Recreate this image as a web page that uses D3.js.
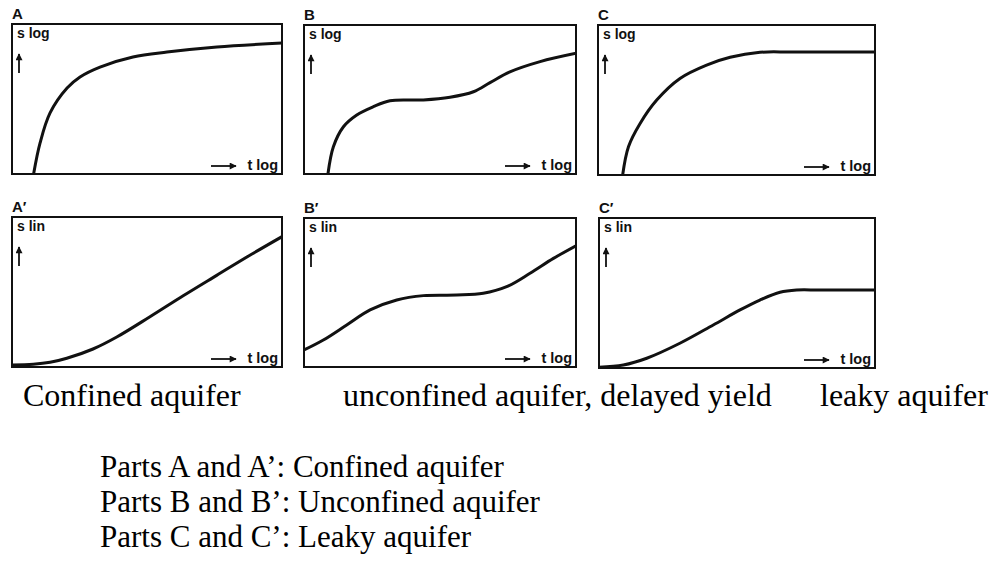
<!DOCTYPE html>
<html>
<head>
<meta charset="utf-8">
<script src="https://cdn.jsdelivr.net/npm/d3@7"></script>
<style>
  body { margin: 0; background: #fff; }
  .box { fill: none; stroke: #111; stroke-width: 2; }
  .curve { fill: none; stroke: #111; stroke-width: 3; stroke-linejoin: round; }
  .plabel, .axlabel { font-family: "Liberation Sans", Arial, sans-serif; font-weight: bold; fill: #111; }
  .caption { font-family: "Liberation Serif", "Times New Roman", serif; fill: #000; }
</style>
</head>
<body>
<div id="chart"></div>
<script>
// drawdown curves, normalised: t in [0,1] across the box, s in [0,1] up the box
var curveA = [[0.08, 0], [0.104, 0.207], [0.141, 0.407], [0.204, 0.573], [0.252, 0.647], [0.326, 0.713],
    [0.448, 0.78], [0.574, 0.813], [0.759, 0.847], [1.0, 0.873]];
var curveB = [[0.088, 0], [0.108, 0.183], [0.145, 0.317], [0.194, 0.396], [0.255, 0.452], [0.316, 0.492],
    [0.439, 0.497], [0.537, 0.515], [0.623, 0.552], [0.684, 0.613], [0.757, 0.685], [0.868, 0.754], [1.0, 0.81]];
var curveC = [[0.089, 0], [0.11, 0.189], [0.152, 0.344], [0.212, 0.5], [0.296, 0.644], [0.392, 0.733],
    [0.477, 0.785], [0.585, 0.818], [0.7, 0.82], [1.0, 0.82]];
var curveA2 = [[0, 0.013], [0.079, 0.018], [0.141, 0.031], [0.203, 0.058], [0.3, 0.12], [0.388, 0.2],
    [0.511, 0.335], [0.634, 0.475], [0.758, 0.611], [0.881, 0.745], [1.0, 0.869]];
var curveB2 = [[0, 0.114], [0.071, 0.181], [0.157, 0.282], [0.243, 0.383], [0.341, 0.45], [0.439, 0.479],
    [0.561, 0.483], [0.659, 0.495], [0.745, 0.539], [0.831, 0.629], [0.917, 0.729], [1.0, 0.814]];
var curveC2 = [[0, 0.005], [0.088, 0.02], [0.173, 0.065], [0.293, 0.165], [0.414, 0.287], [0.511, 0.387],
    [0.583, 0.453], [0.656, 0.505], [0.716, 0.52], [0.8, 0.52], [1.0, 0.52]];

var panelNames = ['A', 'B', 'C', 'A\u2032', 'B\u2032', 'C\u2032'];
var yLabels = ['s log', 's log', 's log', 's lin', 's lin', 's lin'];
var xLabel = 't log';
var captions = ['Confined aquifer', 'unconfined aquifer, delayed yield', 'leaky aquifer'];
var notes = ['Parts A and A\u2019: Confined aquifer', 'Parts B and B\u2019: Unconfined aquifer',
    'Parts C and C\u2019: Leaky aquifer'];

var curves = [curveA, curveB, curveC, curveA2, curveB2, curveC2];

// box geometry (left, right, top, bottom) in px
var boxes = [
    [12, 282, 24, 174], [304, 576, 25, 174], [598, 875, 25, 175],
    [12, 282, 217, 367], [304, 576, 218, 367], [599, 875, 218, 368]
];

var W = 995, H = 561;
var svg = d3.select('#chart').append('svg')
    .attr('width', W).attr('height', H)
    .attr('viewBox', [0, 0, W, H].join(' '));

var defs = svg.append('defs');
defs.append('marker')
    .attr('id', 'head')
    .attr('viewBox', '0 0 10 10')
    .attr('refX', 9).attr('refY', 5)
    .attr('markerWidth', 9).attr('markerHeight', 7)
    .attr('markerUnits', 'userSpaceOnUse')
    .attr('orient', 'auto')
    .append('path').attr('d', 'M0,0L10,5L0,10z').attr('fill', '#111');

boxes.forEach(function (b, i) {
    var x = d3.scaleLinear().domain([0, 1]).range([b[0], b[1]]);
    var y = d3.scaleLinear().domain([0, 1]).range([b[3], b[2]]);
    var g = svg.append('g');

    defs.append('clipPath').attr('id', 'clip' + i)
        .append('rect')
        .attr('x', b[0]).attr('y', b[2])
        .attr('width', b[1] - b[0]).attr('height', b[3] - b[2]);

    g.append('path')
        .datum(curves[i])
        .attr('class', 'curve')
        .attr('clip-path', 'url(#clip' + i + ')')
        .attr('d', d3.line()
            .x(function (d) { return x(d[0]); })
            .y(function (d) { return y(d[1]); })
            .curve(d3.curveCatmullRom.alpha(0.5)));

    g.append('rect')
        .attr('class', 'box')
        .attr('x', b[0]).attr('y', b[2])
        .attr('width', b[1] - b[0]).attr('height', b[3] - b[2]);

    g.append('text')
        .attr('class', 'plabel')
        .attr('x', b[0]).attr('y', b[2] - 5)
        .attr('font-size', 15)
        .text(panelNames[i]);

    g.append('text')
        .attr('class', 'axlabel')
        .attr('x', b[0] + 5).attr('y', b[2] + 14)
        .attr('font-size', 14)
        .text(yLabels[i]);

    // up arrow
    g.append('line')
        .attr('x1', b[0] + 7).attr('y1', b[2] + 49)
        .attr('x2', b[0] + 7).attr('y2', b[2] + 30)
        .attr('stroke', '#111').attr('stroke-width', 1.8)
        .attr('marker-end', 'url(#head)');

    // right arrow + t log
    g.append('line')
        .attr('x1', b[1] - 71).attr('y1', b[3] - 8)
        .attr('x2', b[1] - 46).attr('y2', b[3] - 8)
        .attr('stroke', '#111').attr('stroke-width', 1.8)
        .attr('marker-end', 'url(#head)');

    g.append('text')
        .attr('class', 'axlabel')
        .attr('x', b[1] - 4).attr('y', b[3] - 4)
        .attr('text-anchor', 'end')
        .attr('font-size', 14.5)
        .text(xLabel);
});

var capX = [23, 343, 820];
svg.selectAll('.cap')
    .data(captions)
    .enter().append('text')
    .attr('class', 'caption')
    .attr('x', function (d, i) { return capX[i]; })
    .attr('y', 406)
    .attr('font-size', 32)
    .text(function (d) { return d; });

svg.selectAll('.note')
    .data(notes)
    .enter().append('text')
    .attr('class', 'caption')
    .attr('x', 100)
    .attr('y', function (d, i) { return 477 + i * 35; })
    .attr('font-size', 31)
    .text(function (d) { return d; });
</script>
</body>
</html>
